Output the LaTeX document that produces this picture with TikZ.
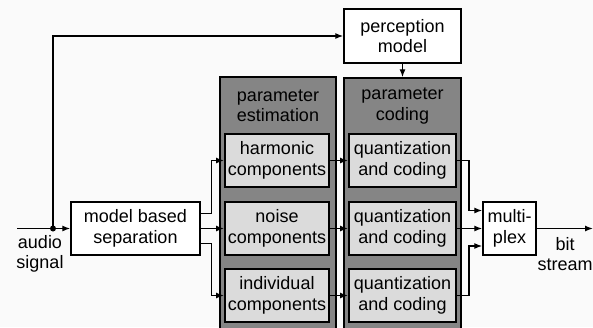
\documentclass[tikz,border=0pt]{standalone}
\usepackage{fontspec}
\setmainfont{Liberation Sans}
\usetikzlibrary{arrows.meta}
\begin{document}
\begin{tikzpicture}[x=1pt,y=-1pt,
  font=\fontsize{18}{20.5}\selectfont,
  box/.style={draw=black,line width=1.4pt,fill=white,inner sep=0pt,align=center,minimum height=53pt},
  panel/.style={draw=black,line width=1.4pt,fill=black!48,inner sep=0pt},
  sub/.style={draw=black,line width=2pt,fill=black!14,inner sep=0pt,align=center,minimum height=53pt},
  lbl/.style={align=center,inner sep=0pt},
  arr/.style={line width=1.3pt,-{Latex[length=8pt,width=6pt]}},
  ln/.style={line width=1.3pt}]
\fill[black!2] (0,0) rectangle (593,327);
\useasboundingbox (0,0) rectangle (593,327);
% panels
\node[panel,minimum width=116pt,minimum height=263pt] (pe) at (278,208.5) {};
\node[panel,minimum width=117pt,minimum height=262pt] (pc) at (402.5,209) {};
\node[lbl] (pelbl) at (278,106) {parameter\\estimation};
\node[lbl] (pclbl) at (402.5,106) {parameter\\coding};
% boxes
\node[box,minimum width=117pt,minimum height=54pt] (perc) at (402.5,36) {perception\\model};
\node[box,minimum width=129pt] (sep) at (135.5,228.5) {model based\\separation};
\node[box,minimum width=53pt] (mux) at (509.5,228.5) {multi-\\plex};
\node[sub,minimum width=104pt] (harm) at (277,160.5) {harmonic\\components};
\node[sub,minimum width=104pt] (noise) at (277,228.5) {noise\\components};
\node[sub,minimum width=104pt] (indiv) at (277,295.5) {individual\\components};
\node[sub,minimum width=107pt] (q1) at (402.5,160.5) {quantization\\and coding};
\node[sub,minimum width=107pt] (q2) at (402.5,228.5) {quantization\\and coding};
\node[sub,minimum width=107pt] (q3) at (402.5,295.5) {quantization\\and coding};
\node[lbl] (audio) at (40,254) {audio\\signal};
\node[lbl] (bits) at (565,254) {bit\\stream};
% connectors
\coordinate (in) at (17,228.5);
\coordinate (dot) at (53,228.5);
\coordinate (out) at (593,228.5);
\draw[arr] (in) -- (sep.west);
\fill (dot) circle (3pt);
\draw[arr] (dot) -- (53,36) -- (perc.west);
\draw[arr] (perc.south) -- (pc.north);
\draw[arr] ([yshift=15pt]sep.east) -- ++(11,0) |- (harm.west);
\draw[arr] (sep.east) -- (noise.west);
\draw[arr] ([yshift=-15pt]sep.east) -- ++(11,0) |- (indiv.west);
\draw[arr] (harm.east) -- (q1.west);
\draw[arr] (noise.east) -- (q2.west);
\draw[arr] (indiv.east) -- (q3.west);
\draw[arr] (q1.east) -- ++(12,0) |- ([yshift=18pt]mux.west);
\draw[arr] (q2.east) -- (mux.west);
\draw[arr] (q3.east) -- ++(12,0) |- ([yshift=-17.5pt]mux.west);
\draw[arr] (mux.east) -- (out);
\end{tikzpicture}
\end{document}
